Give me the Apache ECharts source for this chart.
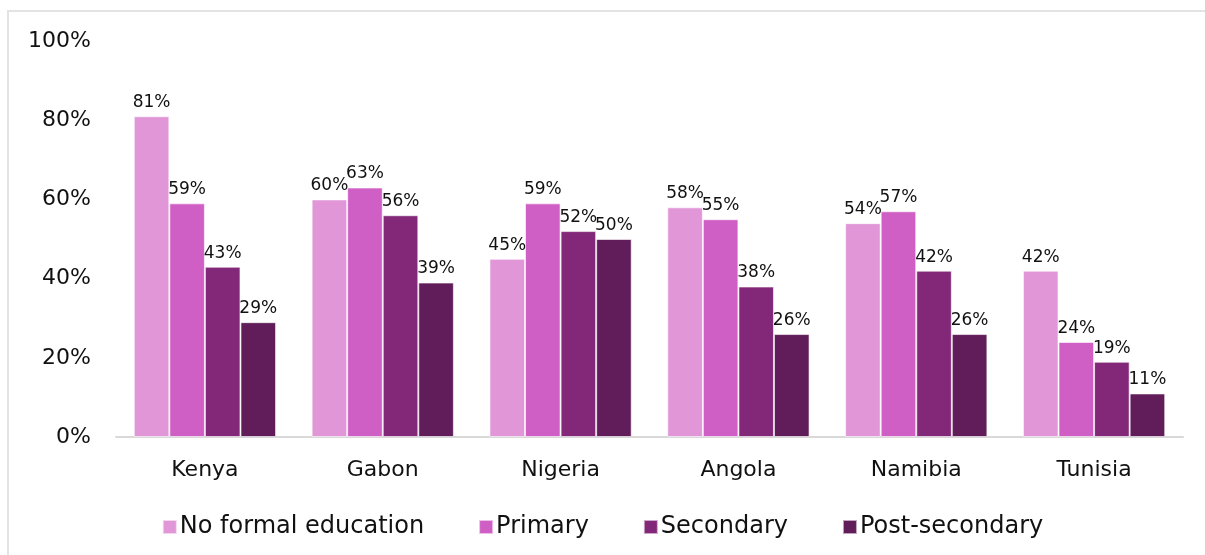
<!DOCTYPE html>
<html>
<head>
<meta charset="utf-8">
<script src="https://cdn.jsdelivr.net/npm/echarts@6/dist/echarts.min.js"></script>
<style>
  html, body { margin: 0; padding: 0; background: #fff; }
  #frame { position: absolute; left: 7px; top: 10px; width: 1220px; height: 570px; border: 2px solid #e3e3e3; box-sizing: border-box; }
  #chart { position: absolute; left: 0; top: 0; width: 1205px; height: 555px; }
</style>
</head>
<body>
<div id="frame"></div>
<div id="chart"></div>
<script>
  // categories and series values (%)
  const countries = ['Kenya', 'Gabon', 'Nigeria', 'Angola', 'Namibia', 'Tunisia']
  const noFormal = [81, 60, 45, 58, 54, 42]
  const primary = [59, 63, 59, 55, 57, 24]
  const secondary = [43, 56, 52, 38, 42, 19]
  const postSecondary = [29, 39, 50, 26, 26, 11]
  const seriesNames = ['No formal education', 'Primary', 'Secondary', 'Post-secondary']
  const colorList = ['#E096D7', '#CF5FC4', '#832878', '#611D5A']

  const font = '"DejaVu Sans", "Liberation Sans", sans-serif'
  const myChart = echarts.init(document.getElementById('chart'))

  let series = [noFormal, primary, secondary, postSecondary].map((vals, i) => ({
    name: seriesNames[i],
    type: 'bar',
    data: vals,
    barGap: '0%',
    barCategoryGap: '20%',
    itemStyle: {
      color: colorList[i],
      borderColor: 'rgba(255,255,255,0.6)',
      borderWidth: 1
    },
    label: {
      show: true,
      position: 'top',
      distance: 5,
      formatter: '{c}%',
      color: '#111',
      fontSize: 17,
      fontFamily: font
    }
  }))

  let option = {
    animation: false,
    color: colorList,
    grid: {
      left: 116,
      right: 22,
      top: 41,
      bottom: 118
    },
    legend: {
      data: seriesNames,
      bottom: 11,
      left: 'center',
      itemWidth: 14,
      itemHeight: 14,
      itemGap: 54,
      icon: 'rect',
      textStyle: {
        fontSize: 24,
        color: '#111',
        fontFamily: font,
        padding: [0, 0, 0, -2]
      }
    },
    xAxis: [
      {
        type: 'category',
        data: countries,
        axisLine: { lineStyle: { color: '#d9d9d9', width: 2 } },
        axisTick: { show: false },
        axisLabel: {
          margin: 22,
          fontSize: 22,
          color: '#111',
          fontFamily: font
        }
      }
    ],
    yAxis: [
      {
        type: 'value',
        min: 0,
        max: 100,
        interval: 20,
        splitLine: { show: false },
        axisLine: { show: false },
        axisTick: { show: false },
        axisLabel: {
          margin: 25,
          formatter: '{value}%',
          fontSize: 22,
          color: '#111',
          fontFamily: font
        }
      }
    ],
    series: series
  }
  myChart.setOption(option, true)
</script>
</body>
</html>
